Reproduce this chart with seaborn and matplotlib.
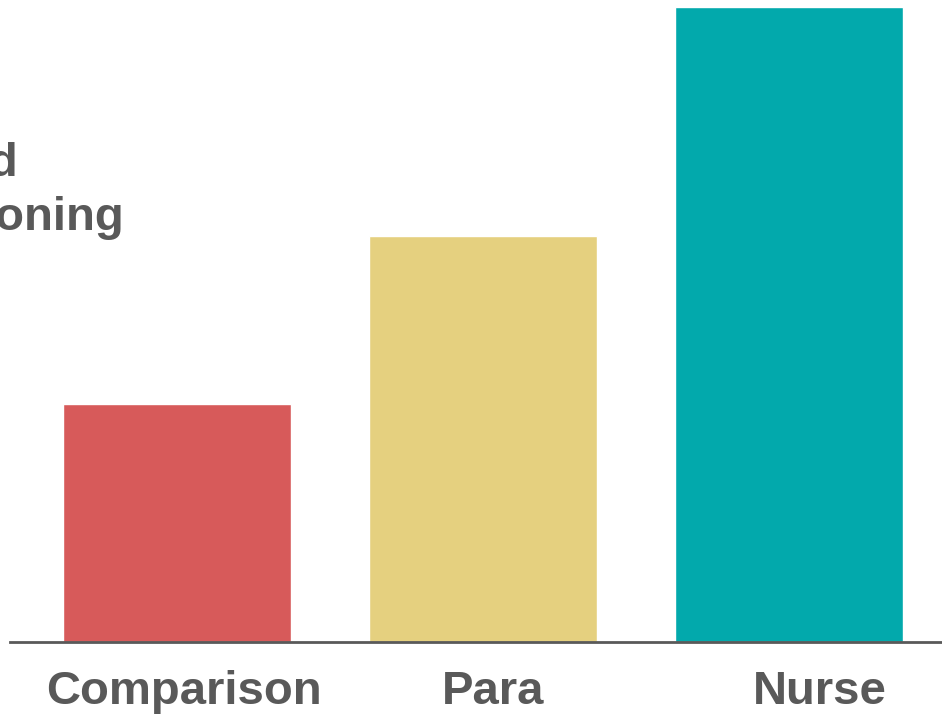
import matplotlib
matplotlib.use("Agg")
import matplotlib.pyplot as plt
from matplotlib.transforms import ScaledTranslation
import seaborn as sns
import pandas as pd

groups = ["Comparison", "Para", "Nurse"]
scores = [23.8, 40.6, 63.5]
colors = ["#D75A5A", "#E5D07F", "#02A9AC"]
title_lines = ["Improved", "Clinical Reasoning"]

sns.set_theme(style="white")
plt.rcParams["font.family"] = ["Liberation Sans", "DejaVu Sans"]

text_color = "#595959"
W, H = 942, 717
fig = plt.figure(figsize=(W / 100, H / 100), dpi=100)

# axes: baseline 642 px from top, spanning to the top edge
ax = fig.add_axes([10 / W, (H - 642) / H, (W - 10) / W, 642 / H])

df = pd.DataFrame({"group": groups, "score": scores})
sns.barplot(data=df, x="group", y="score", hue="group", palette=colors,
            width=0.745, legend=False, ax=ax, saturation=1)

ax.set_xlim(-0.546, 2.5)
ax.set_ylim(0, 64.2)
ax.set_xlabel("")
ax.set_ylabel("")
ax.set_yticks([])
for s in ["top", "right", "left"]:
    ax.spines[s].set_visible(False)
ax.spines["bottom"].set_color(text_color)
ax.spines["bottom"].set_linewidth(2)
ax.spines["bottom"].set_zorder(5)

ax.tick_params(axis="x", length=0, pad=20, labelsize=34, labelcolor=text_color)
for lab in ax.get_xticklabels():
    lab.set_fontweight("bold")

# nudge category labels to the right
shifts = [0.07, 0.10, 0.31]
for lab, dx in zip(ax.get_xticklabels(), shifts):
    lab.set_transform(lab.get_transform() + ScaledTranslation(dx, 0, fig.dpi_scale_trans))

# heading, partly running off the left edge
fig.text(-88 / W, 1 - 230 / H, "\n".join(title_lines), ha="center", va="baseline",
         multialignment="center", fontsize=34, fontweight="bold", color=text_color,
         linespacing=1.3)

fig.savefig("out.png", dpi=100)
